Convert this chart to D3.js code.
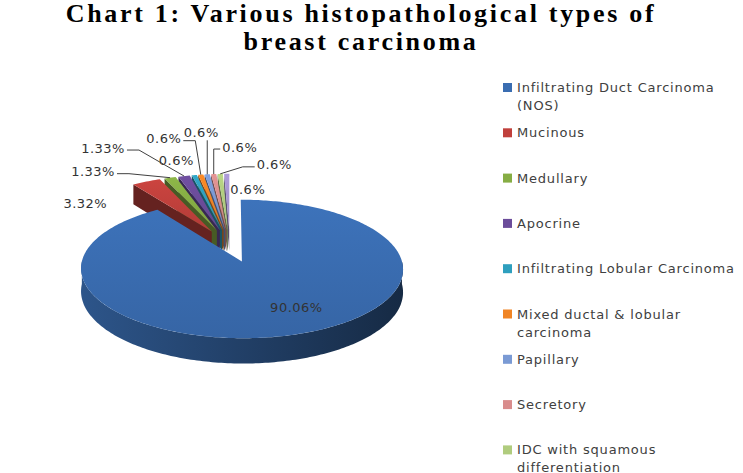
<!DOCTYPE html>
<html lang="en">
<head>
<meta charset="utf-8">
<title>Chart 1: Various histopathological types of breast carcinoma</title>
<script src="https://cdn.jsdelivr.net/npm/d3@7"></script>
<style>
body { margin: 0; background: #fff; }
svg { display: block; }
.title { font-family: "Liberation Serif", "Times New Roman", serif; font-weight: bold; font-size: 26px; letter-spacing: 2.7px; fill: #000; }
.legend text { font-family: "DejaVu Sans", Verdana, sans-serif; font-size: 13px; letter-spacing: 0.8px; fill: #404040; }
.lbl { font-family: "DejaVu Sans", Verdana, sans-serif; font-size: 13px; letter-spacing: 0.5px; fill: #333; }
.leader { fill: none; stroke: #404040; stroke-width: 1; }
</style>
</head>
<body>
<script>
// ---- data -------------------------------------------------------------
var categories = ["Infiltrating Duct Carcinoma (NOS)", "Mucinous", "Medullary", "Apocrine",
                  "Infiltrating Lobular Carcinoma", "Mixed ductal & lobular carcinoma",
                  "Papillary", "Secretory", "IDC with squamous differentiation", "Other"];
var values = [90.06, 3.32, 1.33, 1.33, 0.6, 0.6, 0.6, 0.6, 0.6, 0.6];
var colors = ["#3A6DB1", "#C0403C", "#86AD44", "#6B4C9A", "#2E9FBE",
              "#F08424", "#7A9AD4", "#D98C8C", "#B0CC7E", "#A594CF"];
var titleLines = ["Chart 1: Various histopathological types of", "breast carcinoma"];

// ---- layout -----------------------------------------------------------
var W = 743, H = 473;
var cx = 230, cy = 245.5, rx = 156, ry = 65, depth = 22, persp = 0.106;
var explode = 0.25;
// label position relative to the slice's outer point, and whether a leader is drawn
var labelOffsets = [[0, -27], [-61, 22], [-77, -6], [-81, -28], [-18, -15],
                    [-37, -36], [-6, -42], [26, -27], [54, -9], [21, 16]];
var hasLeader = [false, false, true, true, false, true, true, true, true, false];

var svg = d3.select("body").append("svg")
    .attr("width", W)
    .attr("height", H);

var defs = svg.append("defs");

// simple perspective projection of the unit disk (u right, v toward viewer)
function proj(u, v, h) {
    var s = 1 / (1 - persp * v);
    return [cx + rx * u * s, cy + (ry * v + h) * s];
}

function arcPts(a0, a1, ou, ov, h) {
    var n = Math.max(2, Math.ceil((a1 - a0) / (Math.PI / 180)));
    return d3.range(n + 1).map(function(k) {
        var a = a0 + (a1 - a0) * k / n;
        return proj(ou + Math.sin(a), ov - Math.cos(a), h);
    });
}

var line = d3.line().x(d => d[0]).y(d => d[1]);

var pie = d3.pie().sort(null).value(d => d);
var arcs = pie(values);

// gradients
arcs.forEach(function(d, i) {
    var c = d3.color(colors[i]);
    var gt = defs.append("linearGradient").attr("id", "top" + i)
        .attr("x1", 0).attr("y1", 0).attr("x2", 0).attr("y2", 1);
    gt.append("stop").attr("offset", "0%").attr("stop-color", c.brighter(0.15));
    gt.append("stop").attr("offset", "100%").attr("stop-color", c.darker(0.2));
    var gs = defs.append("linearGradient").attr("id", "side" + i)
        .attr("x1", 0).attr("y1", 0).attr("x2", 1).attr("y2", 0);
    gs.append("stop").attr("offset", "0%").attr("stop-color", c.darker(0.7));
    gs.append("stop").attr("offset", "100%").attr("stop-color", c.darker(2.7));
});

// collect walls
var walls = [];
arcs.forEach(function(d, i) {
    var a0 = d.startAngle, a1 = d.endAngle, mid = (a0 + a1) / 2;
    var ou = explode * Math.sin(mid), ov = -explode * Math.cos(mid);
    d.ou = ou; d.ov = ov; d.mid = mid;
    var lo = Math.max(a0, Math.PI / 2), hi = Math.min(a1, 3 * Math.PI / 2);
    if (lo < hi) {
        var pts = arcPts(lo, hi, ou, ov, 0).concat(arcPts(lo, hi, ou, ov, depth).reverse());
        walls.push({ key: ov - Math.cos((lo + hi) / 2), path: line(pts) + "Z", fill: "url(#side" + i + ")" });
    }
    var dark = d3.color(colors[i]).darker(1.8);
    [[a0, Math.sin(a0) < -1e-6], [a1, Math.sin(a1) > 1e-6]].forEach(function(e) {
        if (!e[1]) return;
        var a = e[0];
        var pts = [proj(ou, ov, 0), proj(ou + Math.sin(a), ov - Math.cos(a), 0),
                   proj(ou + Math.sin(a), ov - Math.cos(a), depth), proj(ou, ov, depth)];
        walls.push({ key: ov - 0.5 * Math.cos(a), path: line(pts) + "Z", fill: dark });
    });
});
walls.sort((a, b) => a.key - b.key);

var pieG = svg.append("g").attr("class", "pie");

pieG.selectAll("path.wall")
    .data(walls)
    .join("path")
    .attr("class", "wall")
    .attr("d", d => d.path)
    .attr("fill", d => d.fill);

pieG.selectAll("path.top")
    .data(arcs)
    .join("path")
    .attr("class", "top")
    .attr("d", function(d) {
        var pts = [proj(d.ou, d.ov, 0)].concat(arcPts(d.startAngle, d.endAngle, d.ou, d.ov, 0));
        return line(pts) + "Z";
    })
    .attr("fill", (d, i) => "url(#top" + i + ")");

// data labels
var lblG = svg.append("g");
arcs.forEach(function(d, i) {
    var anchor = proj((1 + explode) * Math.sin(d.mid), -(1 + explode) * Math.cos(d.mid), 0);
    var tx = anchor[0] + labelOffsets[i][0], ty = anchor[1] + labelOffsets[i][1];
    var t = lblG.append("text")
        .attr("class", "lbl")
        .attr("x", tx).attr("y", ty).attr("dy", "0.35em")
        .attr("text-anchor", "middle")
        .text(values[i] + "%");
    if (!hasLeader[i]) return;
    var w = t.node().getComputedTextLength();
    var x0 = tx - w / 2, x1 = tx + w / 2, pts;
    if (anchor[0] > x1 + 2) {
        pts = [[x1 + 2, ty + 2], [Math.min(x1 + 14, anchor[0]), ty + 2], anchor];
    } else if (anchor[0] < x0 - 2) {
        pts = [[x0 - 2, ty + 2], [Math.max(x0 - 14, anchor[0]), ty + 2], anchor];
    } else {
        pts = [[anchor[0], ty + 8], anchor];
    }
    lblG.append("path").attr("class", "leader").attr("d", line(pts));
});

// title
svg.append("g").selectAll("text")
    .data(titleLines)
    .join("text")
    .attr("class", "title")
    .attr("x", 361)
    .attr("y", (d, i) => 22 + i * 28)
    .attr("text-anchor", "middle")
    .text(d => d);

// legend
var legend = svg.append("g").attr("class", "legend");
var rowY = d3.scaleLinear().domain([0, 1]).range([87.5, 132.8]);
categories.forEach(function(name, i) {
    var y = rowY(i);
    var g = legend.append("g");
    g.append("rect")
        .attr("x", 503).attr("y", y - 4.5)
        .attr("width", 9).attr("height", 9)
        .attr("fill", colors[i]);
    // word wrap at legend width
    var words = name.split(" "), lines = [], cur = "";
    var probe = g.append("text");
    words.forEach(function(wd) {
        var test = cur ? cur + " " + wd : wd;
        probe.text(test);
        if (probe.node().getComputedTextLength() > 226 && cur) {
            lines.push(cur); cur = wd;
        } else cur = test;
    });
    lines.push(cur);
    probe.remove();
    lines.forEach(function(l, k) {
        g.append("text")
            .attr("x", 517).attr("y", y + k * 18).attr("dy", "0.35em")
            .text(l);
    });
});
</script>
</body>
</html>
